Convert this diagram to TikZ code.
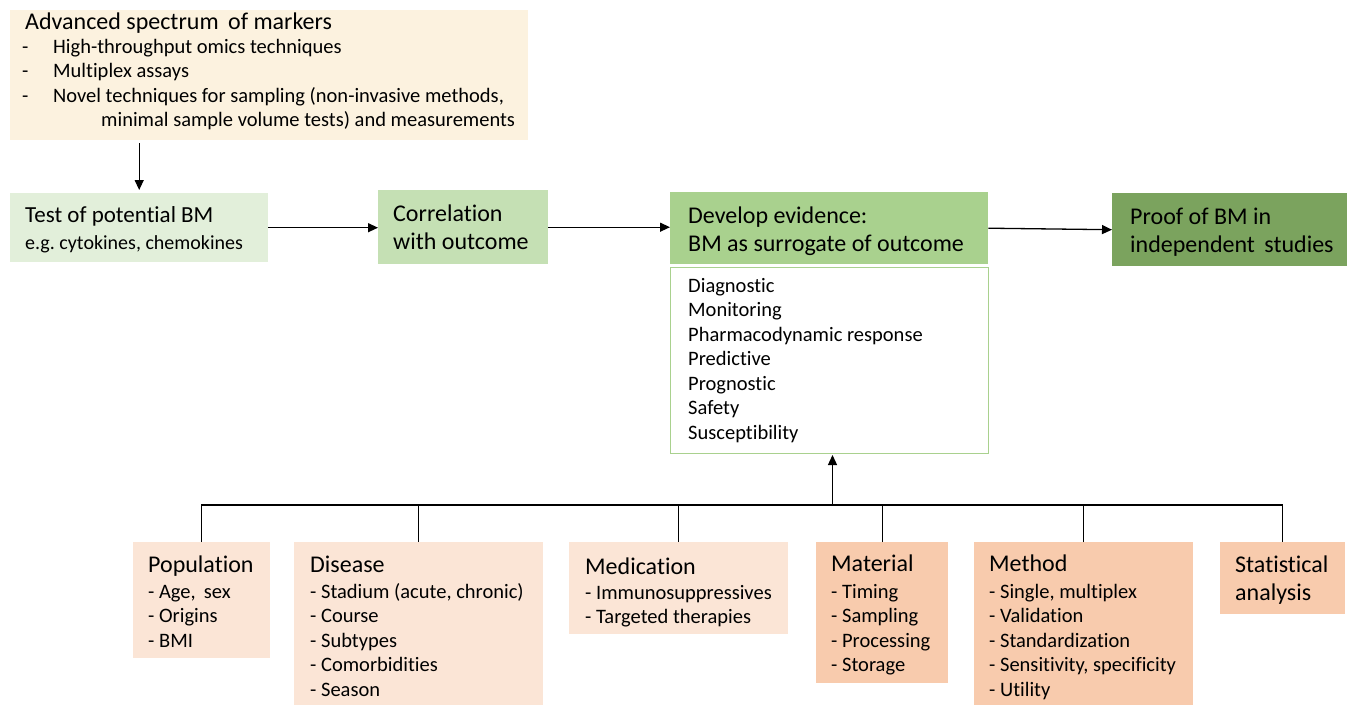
\documentclass[tikz,border=0pt]{standalone}
\usepackage{fontspec}
\setmainfont[Ligatures=NoCommon]{Carlito}
\usetikzlibrary{arrows.meta,calc}
\definecolor{cyellow}{HTML}{FCF2DF}
\definecolor{cgreenA}{HTML}{E2EFDA}
\definecolor{cgreenB}{HTML}{C5E0B4}
\definecolor{cgreenC}{HTML}{A9D18E}
\definecolor{cgreenD}{HTML}{7BA35E}
\definecolor{cpeachA}{HTML}{FBE5D6}
\definecolor{cpeachB}{HTML}{F8CBAD}
\tikzset{
  box/.style={inner sep=0pt, anchor=north west, draw=none},
  txt/.style={inner sep=0pt, anchor=base west},
  big/.style={font=\fontsize{24}{28.5}\selectfont},
  mid/.style={font=\fontsize{23}{27}\selectfont},
  small/.style={font=\fontsize{20.5}{24.5}\selectfont},
  arr/.style={line width=1.3pt, -{Triangle[length=10pt,width=9pt]}},
  conn/.style={line width=1.3pt},
}
\newcommand{\dsh}{\makebox[31pt][l]{-}}
\newcommand{\ml}[1]{\begin{tabular}[t]{@{}l@{}}#1\end{tabular}}
\begin{document}
\begin{tikzpicture}[x=1pt,y=-1pt]
\useasboundingbox (0,0) rectangle (1353,705);
% boxes
\node[box, fill=cyellow, minimum width=518pt, minimum height=130pt] (adv) at (10,10) {};
\node[box, fill=cgreenA, minimum width=258pt, minimum height=69pt] (test) at (10,193) {};
\node[box, fill=cgreenB, minimum width=170pt, minimum height=74pt] (corr) at (378,190) {};
\node[box, fill=cgreenC, minimum width=318pt, minimum height=72pt] (dev) at (670,192) {};
\node[box, fill=white, draw=cgreenC, line width=1pt, minimum width=318pt, minimum height=186pt] (list) at (670,267) {};
\node[box, fill=cgreenD, minimum width=235pt, minimum height=73pt] (proof) at (1112,193) {};
\node[box, fill=cpeachA, minimum width=137pt, minimum height=116pt] (pop) at (133,542) {};
\node[box, fill=cpeachA, minimum width=249pt, minimum height=163pt] (dis) at (294,542) {};
\node[box, fill=cpeachA, minimum width=219pt, minimum height=92pt] (med) at (569,542) {};
\node[box, fill=cpeachB, minimum width=132pt, minimum height=141pt] (mat) at (816,542) {};
\node[box, fill=cpeachB, minimum width=219pt, minimum height=163pt] (meth) at (974,542) {};
\node[box, fill=cpeachB, minimum width=125pt, minimum height=72pt] (stat) at (1220,542) {};
% texts
\node[txt, big] at (25,29) {Advanced spectrum\, of markers};
\node[txt, small] at (22,53) {\ml{\dsh High-throughput omics techniques\\
\dsh Multiplex assays\\
\dsh Novel techniques for sampling (non-invasive methods,\\
\hspace*{79pt}minimal sample volume tests) and measurements}};
\node[txt, mid] at (25,222) {Test of potential BM};
\node[txt, font=\fontsize{20}{22}\selectfont] at (25,249) {e.g.\ cytokines, chemokines};
\node[txt, big] at (393,221) {\ml{Correlation\\with outcome}};
\node[txt, big] at (688,223) {\ml{Develop evidence:\\BM as surrogate of outcome}};
\node[txt, small] at (688,292) {\ml{Diagnostic\\Monitoring\\Pharmacodynamic response\\Predictive\\Prognostic\\Safety\\Susceptibility}};
\node[txt, big] at (1130,224) {\ml{Proof of BM in\\independent\, studies}};
\node[txt, big] at (148,572) {Population};
\node[txt, small] at (148,598) {\ml{- Age,\, sex\\- Origins\\- BMI}};
\node[txt, big] at (310,572) {Disease};
\node[txt, small] at (310,598) {\ml{- Stadium (acute, chronic)\\- Course\\- Subtypes\\- Comorbidities\\- Season}};
\node[txt, big] at (585,574) {Medication};
\node[txt, small] at (585,599) {\ml{- Immunosuppressives\\- Targeted therapies}};
\node[txt, big] at (831,571) {Material};
\node[txt, small] at (831,598) {\ml{- Timing\\- Sampling\\- Processing\\- Storage}};
\node[txt, big] at (989,571) {Method};
\node[txt, small] at (989,598) {\ml{- Single, multiplex\\- Validation\\- Standardization\\- Sensitivity, specificity\\- Utility}};
\node[txt, big] at (1235,572) {\ml{Statistical\\analysis}};
% connectors
\draw[arr, shorten <=3pt, shorten >=3pt] (adv.south -| test.north) -- (test.north);
\draw[arr] (test.east) -- (corr.west |- test.east);
\draw[arr] (corr.east) -- (dev.west |- corr.east);
\draw[arr] (dev.east) -- (proof.west);
\coordinate (bus) at ($(list.south)+(3,51)$);
\draw[conn] (pop.north) |- (stat.north |- bus) -- (stat.north);
\draw[conn] (dis.north) -- (dis.north |- bus);
\draw[conn] (med.north) -- (med.north |- bus);
\draw[conn] (mat.north) -- (mat.north |- bus);
\draw[conn] (meth.north) -- (meth.north |- bus);
\draw[arr, shorten >=1pt] (bus) -- (bus |- list.south);
\end{tikzpicture}
\end{document}
